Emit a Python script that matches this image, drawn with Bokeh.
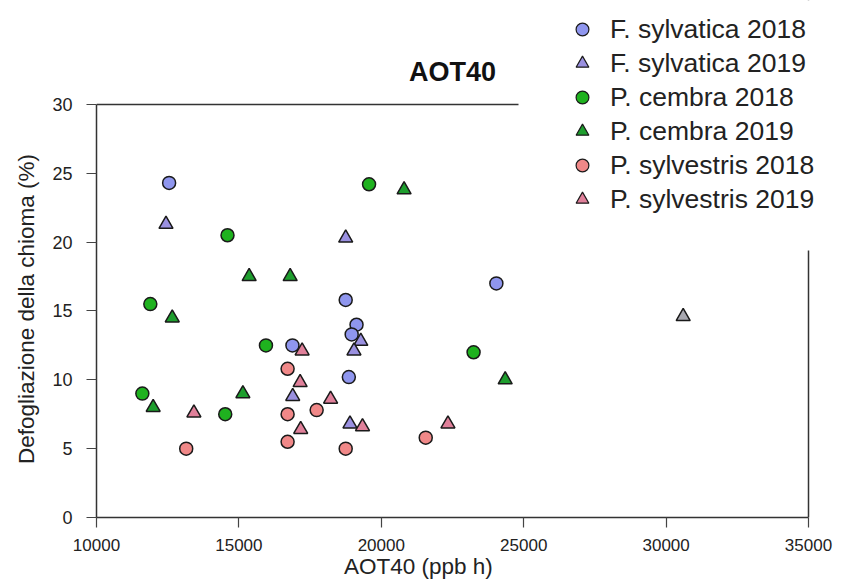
from bokeh.plotting import figure
from bokeh.models import (Range1d, FixedTicker, Legend, LegendItem, ColumnDataSource,
                          Span, Label, BoxAnnotation)
from bokeh.embed import file_html
from bokeh.resources import INLINE

# ---- data ----
fs18_x = [12550, 18750, 16880, 19130, 18960, 18860, 24040]
fs18_y = [24.3, 15.8, 12.5, 14.0, 13.3, 10.2, 17.0]
fs19_x = [12440, 18750, 16890, 19280, 19040, 18900, 30600]
fs19_y = [21.3, 20.3, 8.8, 12.8, 12.1, 6.8, 14.6]
pc18_x = [14600, 11890, 15950, 11610, 14520, 19570, 23240]
pc18_y = [20.5, 15.5, 12.5, 9.0, 7.5, 24.2, 12.0]
pc19_x = [15360, 16800, 12660, 15140, 11990, 20800, 24350]
pc19_y = [17.5, 17.5, 14.5, 9.0, 8.0, 23.8, 10.0]
ps18_x = [16710, 16710, 17730, 16710, 13150, 21560, 18750]
ps18_y = [10.8, 7.5, 7.8, 5.5, 5.0, 5.8, 5.0]
ps19_x = [17220, 17150, 18220, 13420, 17170, 19340, 22340]
ps19_y = [12.1, 9.8, 8.6, 7.6, 6.4, 6.6, 6.8]

x_ticks = [10000, 15000, 20000, 25000, 30000, 35000]
y_ticks = [0, 5, 10, 15, 20, 25, 30]
X_MIN, X_MAX = 10000, 35000
Y_MIN, Y_MAX = 0, 30

series = [
    ("F. sylvatica 2018", fs18_x, fs18_y, "circle", "#8f96ee"),
    ("F. sylvatica 2019", fs19_x, fs19_y, "triangle", "#9a90e0"),
    ("P. cembra 2018", pc18_x, pc18_y, "circle", "#1fb21f"),
    ("P. cembra 2019", pc19_x, pc19_y, "triangle", "#1e9e2e"),
    ("P. sylvestris 2018", ps18_x, ps18_y, "circle", "#f08888"),
    ("P. sylvestris 2019", ps19_x, ps19_y, "triangle", "#e0809a"),
]

FONT = "Liberation Sans"
NBSP = "\u00a0"

# frame extends to the top/right edges of the canvas so the legend can overlap
# the top-right corner of the axes box (as in the reference)
p = figure(width=846, height=582, output_backend="svg", toolbar_location=None,
           x_range=Range1d(X_MIN, 36334), y_range=Range1d(Y_MIN, 37.55),
           min_border_left=96, min_border_right=0, min_border_top=0, min_border_bottom=65)

p.xgrid.visible = False
p.ygrid.visible = False
p.outline_line_color = None
p.background_fill_color = "white"
p.border_fill_color = "white"

for ax in (p.xaxis[0], p.yaxis[0]):
    ax.axis_line_color = "#333333"
    ax.axis_line_width = 1.5
    ax.major_tick_line_color = "#444444"
    ax.major_tick_line_width = 1.2
    ax.major_tick_out = 10
    ax.major_tick_in = 0
    ax.minor_tick_line_color = None
    ax.major_label_text_font = FONT
    ax.major_label_text_color = "#222222"
    ax.axis_label_text_font = FONT
    ax.axis_label_text_font_size = "22.5px"
    ax.axis_label_text_font_style = "normal"
    ax.axis_label_text_color = "#222222"

p.xaxis[0].major_label_text_font_size = "17px"
p.yaxis[0].major_label_text_font_size = "18px"
p.xaxis[0].ticker = FixedTicker(ticks=x_ticks)
p.yaxis[0].ticker = FixedTicker(ticks=y_ticks)
p.xaxis[0].bounds = (X_MIN, X_MAX)
p.yaxis[0].bounds = (Y_MIN, Y_MAX)
# axis titles are centred on the (enlarged) frame; trailing no-break spaces
# move the visible text back to the centre of the axes box
p.xaxis[0].axis_label = "AOT40 (ppb h)" + NBSP * 17
p.yaxis[0].axis_label = "Defogliazione della chioma (%)" + NBSP * 16
p.xaxis[0].major_label_standoff = 11
p.xaxis[0].axis_label_standoff = 0
p.yaxis[0].major_label_standoff = 14
p.yaxis[0].axis_label_standoff = 10

# top and right edges of the axes box
p.add_layout(Span(location=Y_MAX, dimension="width", line_color="#333333", line_width=1.5))
p.add_layout(Span(location=X_MAX, dimension="height", line_color="#333333", line_width=1.5))

# white area behind the legend, hiding the top-right corner of the axes box
p.add_layout(BoxAnnotation(left=518, right=846, top=0, bottom=250,
                           left_units="canvas", right_units="canvas",
                           top_units="canvas", bottom_units="canvas",
                           fill_color="white", fill_alpha=1.0, line_color=None))

# chart title
p.add_layout(Label(x=(X_MIN + X_MAX) / 2, y=Y_MAX, y_offset=32, text="AOT40",
                   text_align="center", text_baseline="alphabetic",
                   text_font=FONT, text_font_size="27px", text_font_style="bold",
                   text_color="#111111"))

items = []
for name, xs, ys, marker, color in series:
    fills = [color] * len(xs)
    if name == "F. sylvatica 2019":
        fills[-1] = "#a8a8b0"
    src = ColumnDataSource(dict(x=xs, y=ys, fill=fills))
    size = 13 if marker == "circle" else 14
    p.scatter("x", "y", source=src, marker=marker, size=size,
              fill_color="fill", line_color="#1a1a1a", line_width=1.5)
    proxy = p.scatter(x=[xs[0]], y=[ys[0]], marker=marker, size=size,
                      fill_color=color, line_color="#1a1a1a", line_width=1.2, visible=False)
    items.append(LegendItem(label=name, renderers=[proxy]))

legend = Legend(items=items, location=(470, 302),
                padding=0, margin=0, spacing=2,
                glyph_width=32, glyph_height=32, label_height=32,
                label_width=230, label_standoff=12,
                label_text_font=FONT, label_text_font_size="26.5px",
                label_text_color="#222222",
                background_fill_color="white", background_fill_alpha=0.0,
                border_line_color=None)
p.add_layout(legend, "center")

open("out.html", "w").write(file_html(p, INLINE))
